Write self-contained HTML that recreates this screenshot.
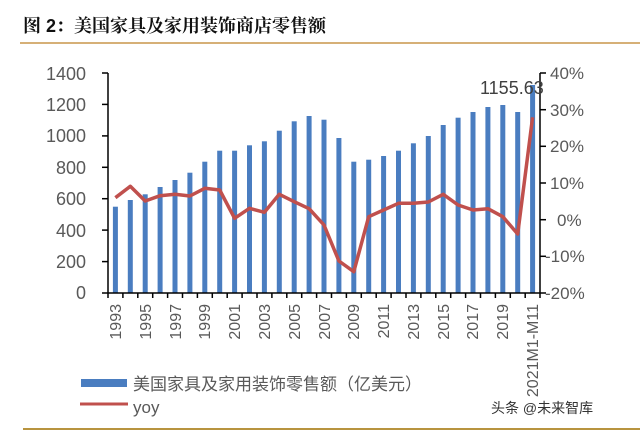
<!DOCTYPE html>
<html><head><meta charset="utf-8"><style>
html,body{margin:0;padding:0;background:#fff;width:640px;height:430px;overflow:hidden}
svg text{font-family:"Liberation Sans","Noto Sans CJK SC",sans-serif}
</style></head><body>
<svg width="640" height="430" viewBox="0 0 640 430" xmlns="http://www.w3.org/2000/svg">
<text x="23" y="32" font-size="18" font-weight="bold" fill="#111" style="font-family:'Liberation Sans','Noto Serif CJK SC',serif">图 2：美国家具及家用装饰商店零售额</text>
<line x1="20" y1="43" x2="640" y2="43" stroke="#c9964a" stroke-width="1.5"/>
<g fill="#4a7dc0">
<rect x="112.9" y="206.7" width="5" height="86.3"/><rect x="127.8" y="200" width="5" height="93"/><rect x="142.7" y="194.3" width="5" height="98.7"/><rect x="157.6" y="187" width="5" height="106"/><rect x="172.5" y="180" width="5" height="113"/><rect x="187.4" y="172.7" width="5" height="120.3"/><rect x="202.3" y="161.7" width="5" height="131.3"/><rect x="217.2" y="150.7" width="5" height="142.3"/><rect x="232.1" y="150.7" width="5" height="142.3"/><rect x="247" y="145.3" width="5" height="147.7"/><rect x="261.9" y="141.3" width="5" height="151.7"/><rect x="276.8" y="130.7" width="5" height="162.3"/><rect x="291.7" y="121.3" width="5" height="171.7"/><rect x="306.6" y="116" width="5" height="177"/><rect x="321.5" y="119.7" width="5" height="173.3"/><rect x="336.4" y="138" width="5" height="155"/><rect x="351.3" y="161.7" width="5" height="131.3"/><rect x="366.2" y="159.7" width="5" height="133.3"/><rect x="381.1" y="156" width="5" height="137"/><rect x="396" y="150.7" width="5" height="142.3"/><rect x="410.9" y="143.3" width="5" height="149.7"/><rect x="425.8" y="136" width="5" height="157"/><rect x="440.7" y="125" width="5" height="168"/><rect x="455.6" y="117.7" width="5" height="175.3"/><rect x="470.5" y="112" width="5" height="181"/><rect x="485.4" y="107" width="5" height="186"/><rect x="500.3" y="105" width="5" height="188"/><rect x="515.2" y="112" width="5" height="181"/><rect x="530.1" y="85" width="5" height="208"/>
</g>
<polyline fill="none" stroke="#c0504d" stroke-width="3.5" stroke-linejoin="round" points="115.4,197.7 130.3,186.3 145.2,201 160.1,195.7 175,194.3 189.9,196 204.8,188.3 219.7,190 234.6,218.3 249.5,208.3 264.4,212.3 279.3,194.3 294.2,201.7 309.1,208.7 324,225 338.9,261 353.8,271.7 368.7,216.7 383.6,210 398.5,203.3 413.4,203.3 428.3,202 443.2,194.3 458.1,205 473,210 487.9,208.7 502.8,216.7 517.7,234 532.6,117.3"/>
<g stroke="#000" stroke-width="1.5">
<line x1="108" y1="73" x2="108" y2="293"/><line x1="540" y1="73" x2="540" y2="293"/><line x1="108" y1="293" x2="540" y2="293"/>
<line x1="102" y1="73" x2="108" y2="73"/><line x1="102" y1="104.4" x2="108" y2="104.4"/><line x1="102" y1="135.9" x2="108" y2="135.9"/><line x1="102" y1="167.3" x2="108" y2="167.3"/><line x1="102" y1="198.7" x2="108" y2="198.7"/><line x1="102" y1="230.1" x2="108" y2="230.1"/><line x1="102" y1="261.6" x2="108" y2="261.6"/><line x1="102" y1="293" x2="108" y2="293"/>
<line x1="540" y1="73" x2="546" y2="73"/><line x1="540" y1="109.7" x2="546" y2="109.7"/><line x1="540" y1="146.3" x2="546" y2="146.3"/><line x1="540" y1="183" x2="546" y2="183"/><line x1="540" y1="219.7" x2="546" y2="219.7"/><line x1="540" y1="256.3" x2="546" y2="256.3"/><line x1="540" y1="293" x2="546" y2="293"/>
<path d="M108 293v5M122.9 293v5M137.8 293v5M152.7 293v5M167.6 293v5M182.5 293v5M197.4 293v5M212.3 293v5M227.2 293v5M242.1 293v5M257 293v5M271.9 293v5M286.8 293v5M301.7 293v5M316.6 293v5M331.5 293v5M346.4 293v5M361.3 293v5M376.2 293v5M391.1 293v5M406 293v5M420.9 293v5M435.8 293v5M450.7 293v5M465.6 293v5M480.5 293v5M495.4 293v5M510.3 293v5M525.2 293v5M540 293v5"/>
</g>
<g font-size="18" fill="#595959" text-anchor="end">
<text x="86" y="80">1400</text><text x="86" y="111">1200</text><text x="86" y="142">1000</text><text x="86" y="174">800</text><text x="86" y="205">600</text><text x="86" y="237">400</text><text x="86" y="268">200</text><text x="86" y="299">0</text>
</g>
<g font-size="17" fill="#595959">
<text x="550" y="79">40%</text><text x="550" y="116">30%</text><text x="550" y="152">20%</text><text x="550" y="189">10%</text><text x="557" y="226">0%</text><text x="545" y="262">-10%</text><text x="545" y="299">-20%</text>
</g>
<g font-size="16" fill="#595959" text-anchor="end">
<text transform="translate(121,304) rotate(-90)">1993</text><text transform="translate(151,304) rotate(-90)">1995</text><text transform="translate(181,304) rotate(-90)">1997</text><text transform="translate(210,304) rotate(-90)">1999</text><text transform="translate(240,304) rotate(-90)">2001</text><text transform="translate(270,304) rotate(-90)">2003</text><text transform="translate(300,304) rotate(-90)">2005</text><text transform="translate(330,304) rotate(-90)">2007</text><text transform="translate(359,304) rotate(-90)">2009</text><text transform="translate(389,304) rotate(-90)">2011</text><text transform="translate(419,304) rotate(-90)">2013</text><text transform="translate(449,304) rotate(-90)">2015</text><text transform="translate(478,304) rotate(-90)">2017</text><text transform="translate(508,304) rotate(-90)">2019</text><text transform="translate(538,304) rotate(-90)">2021M1-M11</text>
</g>
<text x="480" y="94" font-size="18" fill="#404040">1155.63</text>
<rect x="81" y="379" width="46" height="8" fill="#4a7dc0"/>
<text x="133" y="390" font-size="17" fill="#595959">美国家具及家用装饰零售额（亿美元）</text>
<line x1="80" y1="404" x2="128" y2="404" stroke="#c0504d" stroke-width="3"/>
<text x="133" y="413" font-size="17" fill="#595959">yoy</text>
<text x="491" y="413" font-size="14" fill="#333">头条 @未来智库</text>
<line x1="23" y1="429" x2="640" y2="429" stroke="#b8943f" stroke-width="2"/>
</svg>
</body></html>
